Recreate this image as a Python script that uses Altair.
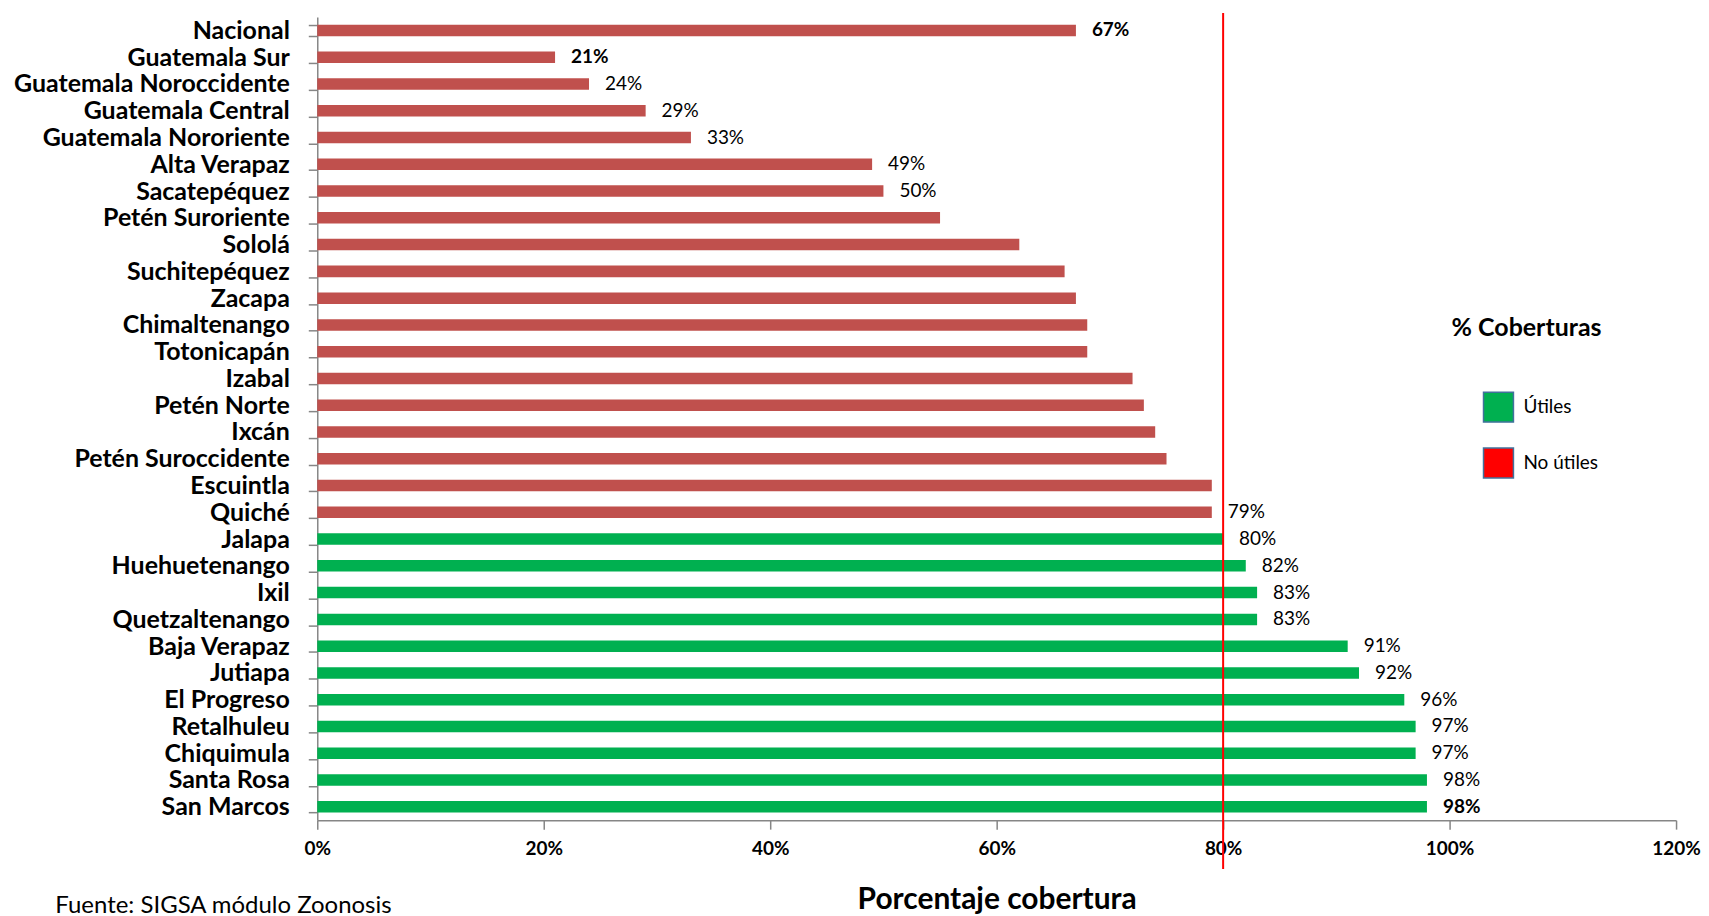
import altair as alt
import pandas as pd

regiones = ["Nacional", "Guatemala Sur", "Guatemala Noroccidente", "Guatemala Central",
            "Guatemala Nororiente", "Alta Verapaz", "Sacatepéquez", "Petén Suroriente",
            "Sololá", "Suchitepéquez", "Zacapa", "Chimaltenango", "Totonicapán", "Izabal",
            "Petén Norte", "Ixcán", "Petén Suroccidente", "Escuintla", "Quiché", "Jalapa",
            "Huehuetenango", "Ixil", "Quetzaltenango", "Baja Verapaz", "Jutiapa",
            "El Progreso", "Retalhuleu", "Chiquimula", "Santa Rosa", "San Marcos"]
valores = [67, 21, 24, 29, 33, 49, 50, 55, 62, 66, 67, 68, 68, 72, 73, 74, 75, 79, 79,
           80, 82, 83, 83, 91, 92, 96, 97, 97, 98, 98]
mostrar = [1, 1, 1, 1, 1, 1, 1, 0, 0, 0, 0, 0, 0, 0, 0, 0, 0, 0, 1,
           1, 1, 1, 1, 1, 1, 1, 1, 1, 1, 1]
negrita = [1, 1, 0, 0, 0, 0, 0, 0, 0, 0, 0, 0, 0, 0, 0, 0, 0, 0, 0,
           0, 0, 0, 0, 0, 0, 0, 0, 0, 0, 1]
estados = ["Útiles", "No útiles"]
colores_barra = {"Útiles": "#00B050", "No útiles": "#C0504D"}
colores_leyenda = ["#00B050", "#FF0000"]
meta = [0.8]

W, H = 1362, 805

df = pd.DataFrame({"region": regiones, "pct": valores, "mostrar": mostrar, "negrita": negrita})
df["valor"] = df["pct"] / 100
df["estado"] = ["Útiles" if v >= 80 else "No útiles" for v in valores]
df["hex"] = df["estado"].map(colores_barra)
df["texto"] = [f"{v}%" if m else "" for v, m in zip(valores, mostrar)]

FONT = "Lato"

y = alt.Y("region:N", sort=regiones,
          scale=alt.Scale(paddingInner=0.57, paddingOuter=0.285),
          axis=alt.Axis(title=None, labelFont=FONT, labelFontWeight="bold", labelFontSize=25,
                        labelColor="#000000", labelPadding=19, tickSize=9, tickBand="extent",
                        labelLimit=0, domainColor="#868686", tickColor="#868686",
                        domainWidth=1.5, tickWidth=1.5))
x = alt.X("valor:Q", scale=alt.Scale(domain=[0, 1.2], nice=False),
          axis=alt.Axis(values=[0, 0.2, 0.4, 0.6, 0.8, 1.0, 1.2], format=".0%", grid=False,
                        title="Porcentaje cobertura", titleFont=FONT, titleFontSize=30,
                        titleFontWeight="bold", titleColor="#000000", titlePadding=27,
                        labelFont=FONT, labelFontWeight="bold", labelFontSize=19,
                        labelColor="#000000", labelPadding=10, tickSize=9,
                        domainColor="#868686", tickColor="#868686", domainWidth=1.5,
                        tickWidth=1.5, labelFlush=False))

base = alt.Chart(df)

bars = base.mark_bar().encode(x=x, y=y, color=alt.Color("hex:N", scale=None))

legend_layer = base.transform_filter("false").mark_square(filled=True, opacity=1).encode(
    x=x, y=y,
    fill=alt.Fill("estado:N", scale=alt.Scale(domain=estados, range=colores_leyenda),
                  legend=alt.Legend(title="% Coberturas", orient="none", legendX=1137,
                                    legendY=300, titleFont=FONT, titleFontSize=25,
                                    titleFontWeight="bold", titleColor="#000000",
                                    titlePadding=50, symbolType="square", symbolSize=900,
                                    symbolStrokeColor="#41719C", symbolStrokeWidth=1.5,
                                    symbolOpacity=1, symbolOffset=31, labelFont=FONT,
                                    labelFontSize=19, labelColor="#000000", labelOffset=9,
                                    rowPadding=20)))

txt_normal = base.transform_filter("datum.negrita == 0").mark_text(
    align="left", baseline="middle", dx=16, font=FONT, fontSize=19, color="#000000"
).encode(x=x, y=y, text="texto:N")
txt_bold = base.transform_filter("datum.negrita == 1").mark_text(
    align="left", baseline="middle", dx=16, font=FONT, fontSize=19, fontWeight="bold",
    color="#000000"
).encode(x=x, y=y, text="texto:N")

rule = alt.Chart(pd.DataFrame({"ref": meta})).mark_rule(color="#FF0000", strokeWidth=2).encode(
    x=alt.X("ref:Q"), y=alt.value(-4), y2=alt.value(854))

chart = alt.layer(bars, legend_layer, txt_normal, txt_bold, rule).properties(
    width=W, height=H, background="white",
    padding={"top": -4, "left": 5, "right": 0, "bottom": 0},
    title=alt.TitleParams("Fuente: SIGSA módulo Zoonosis", orient="bottom", anchor="start",
                          font=FONT, fontSize=24, fontWeight="normal", color="#000000",
                          dx=42, dy=-25)
).configure_view(strokeWidth=0, stroke=None)

chart.save("out.html", embed_options={"renderer": "svg", "actions": False})
